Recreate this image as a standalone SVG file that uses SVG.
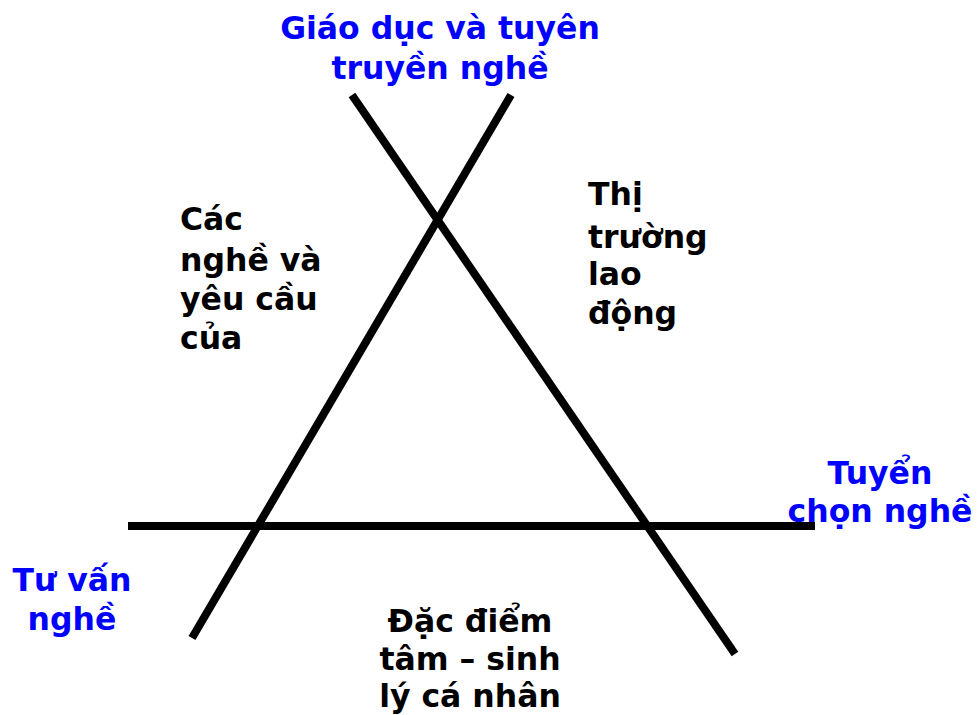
<svg xmlns="http://www.w3.org/2000/svg" width="978" height="715" viewBox="0 0 978 715">
<style>
text{font-family:"DejaVu Sans","Verdana",sans-serif;font-weight:bold;font-size:31.5px}
.b{fill:#0000ff}
.k{fill:#000}
.m{text-anchor:middle}
line{stroke:#000;stroke-width:8}
</style>
<rect width="978" height="715" fill="#fff"/>
<g id="connectors">
<line x1="352" y1="95" x2="735" y2="654"/>
<line x1="511" y1="95" x2="192" y2="638"/>
<line x1="128" y1="526" x2="815" y2="526"/>
</g>
<g id="giao-duc"><text class="b m" x="440" y="39">Giáo dục và tuyên</text><text class="b m" x="440" y="79">truyền nghề</text></g>
<g id="tuyen-chon"><text class="b m" x="880" y="484">Tuyển</text><text class="b m" x="880" y="522">chọn nghề</text></g>
<g id="tu-van"><text class="b m" x="72" y="591">Tư vấn</text><text class="b m" x="72" y="630">nghề</text></g>
<g id="dac-diem"><text class="k m" x="470" y="632">Đặc điểm</text><text class="k m" x="470" y="670">tâm – sinh</text><text class="k m" x="470" y="707">lý cá nhân</text></g>
<g id="cac-nghe"><text class="k" x="180" y="230">Các</text><text class="k" x="180" y="271">nghề và</text><text class="k" x="180" y="310">yêu cầu</text><text class="k" x="180" y="349">của</text></g>
<g id="thi-truong"><text class="k" x="588" y="205">Thị</text><text class="k" x="588" y="248">trường</text><text class="k" x="588" y="285">lao</text><text class="k" x="588" y="324">động</text></g>
</svg>
